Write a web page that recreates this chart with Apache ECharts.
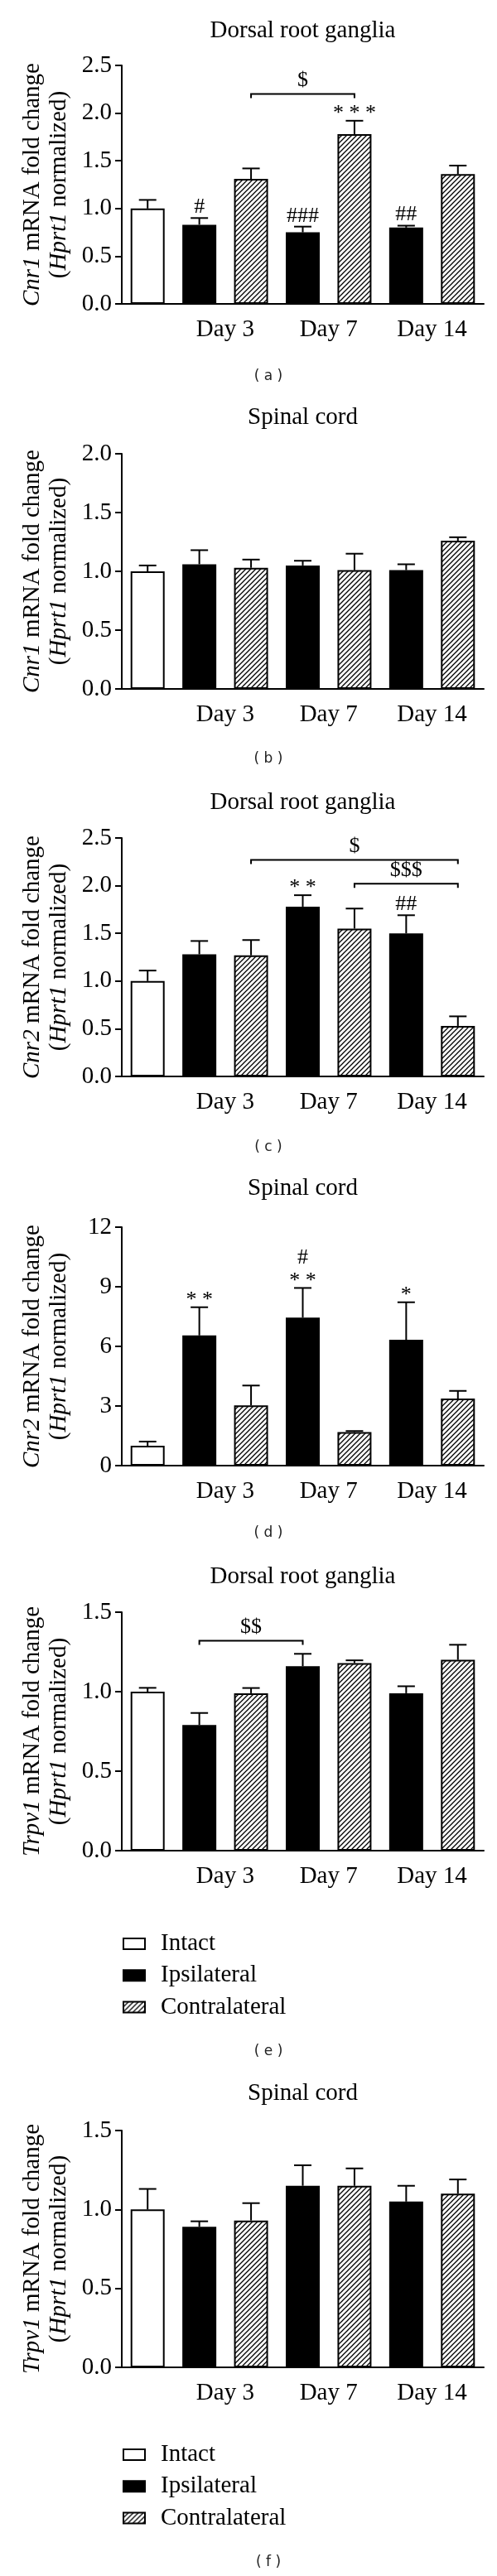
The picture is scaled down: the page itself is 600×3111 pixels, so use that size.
<!DOCTYPE html>
<html><head><meta charset="utf-8">
<script src="https://cdn.jsdelivr.net/npm/echarts@6/dist/echarts.min.js"></script>
<style>html,body{margin:0;padding:0;background:#fff}#c{width:600px;height:3111px}</style>
</head><body><div id="c"></div>
<script>
// ---------- categories / labels ----------
const categories = ['Intact','Ipsilateral Day 3','Contralateral Day 3','Ipsilateral Day 7','Contralateral Day 7','Ipsilateral Day 14','Contralateral Day 14'];
const groupNames = ['Intact','Ipsilateral','Contralateral'];
const groupOfCategory = [0,1,2,1,2,1,2];
const dayLabels = ['Day 3','Day 7','Day 14'];

const tissues = ['Dorsal root ganglia','Spinal cord','Dorsal root ganglia','Spinal cord','Dorsal root ganglia','Spinal cord'];
const genes = ['Cnr1','Cnr1','Cnr2','Cnr2','Trpv1','Trpv1'];
const panelLetters = ['a','b','c','d','e','f'];
const yMax = [2.5, 2.0, 2.5, 12, 1.5, 1.5];
const yStep = [0.5, 0.5, 0.5, 3, 0.5, 0.5];
const yDecimals = [1, 1, 1, 0, 1, 1];

// ---------- values (mean, SEM) ----------
const cnr1DrgMean = [1.00, 0.83, 1.31, 0.75, 1.78, 0.80, 1.36];
const cnr1DrgSem  = [0.09, 0.07, 0.11, 0.06, 0.14, 0.02, 0.09];
const cnr1ScMean  = [1.00, 1.06, 1.03, 1.05, 1.01, 1.01, 1.26];
const cnr1ScSem   = [0.05, 0.12, 0.07, 0.04, 0.14, 0.05, 0.03];
const cnr2DrgMean = [1.00, 1.28, 1.27, 1.78, 1.55, 1.50, 0.53];
const cnr2DrgSem  = [0.11, 0.14, 0.16, 0.12, 0.21, 0.19, 0.10];
const cnr2ScMean  = [1.00, 6.55, 3.03, 7.45, 1.69, 6.33, 3.37];
const cnr2ScSem   = [0.21, 1.42, 1.00, 1.49, 0.05, 1.89, 0.39];
const trpv1DrgMean = [1.00, 0.79, 0.99, 1.16, 1.18, 0.99, 1.20];
const trpv1DrgSem  = [0.024, 0.076, 0.033, 0.078, 0.017, 0.044, 0.095];
const trpv1ScMean  = [1.00, 0.89, 0.93, 1.15, 1.15, 1.05, 1.10];
const trpv1ScSem   = [0.13, 0.035, 0.11, 0.13, 0.11, 0.10, 0.09];

// ---------- significance marks [category, text] and brackets [from, to, level, text] ----------
const cnr1DrgMarks = [[1,'#'],[3,'###'],[4,'* * *'],[5,'##']];
const cnr1DrgBrackets = [[2,4,2.20,'$']];
const cnr1ScMarks = [];
const cnr1ScBrackets = [];
const cnr2DrgMarks = [[3,'* *'],[5,'##']];
const cnr2DrgBrackets = [[2,6,2.27,'$'],[4,6,2.02,'$$$']];
const cnr2ScMarks = [[1,'* *'],[3,'#\n* *'],[5,'*']];
const cnr2ScBrackets = [];
const trpv1DrgMarks = [];
const trpv1DrgBrackets = [[1,3,1.32,'$$']];
const trpv1ScMarks = [];
const trpv1ScBrackets = [];

const panels = [
  {mean: cnr1DrgMean, sem: cnr1DrgSem, marks: cnr1DrgMarks, brackets: cnr1DrgBrackets},
  {mean: cnr1ScMean, sem: cnr1ScSem, marks: cnr1ScMarks, brackets: cnr1ScBrackets},
  {mean: cnr2DrgMean, sem: cnr2DrgSem, marks: cnr2DrgMarks, brackets: cnr2DrgBrackets},
  {mean: cnr2ScMean, sem: cnr2ScSem, marks: cnr2ScMarks, brackets: cnr2ScBrackets},
  {mean: trpv1DrgMean, sem: trpv1DrgSem, marks: trpv1DrgMarks, brackets: trpv1DrgBrackets},
  {mean: trpv1ScMean, sem: trpv1ScSem, marks: trpv1ScMarks, brackets: trpv1ScBrackets}
];

// ---------- layout ----------
const FONT = '"Liberation Serif", "Times New Roman", serif';
const SANS = '"DejaVu Sans", Verdana, sans-serif';
const gridLeft = 147, gridWidth = 437;
const gridTop = [79, 548, 1012, 1482, 1947, 2573];
const gridHeight = [288, 284, 288, 288, 288, 286];
const titleY = [37, 504, 969, 1435, 1904, 2528];
const letterY = [455, 917, 1386, 1852, 2478, 3095];
const legendTop = [null, null, null, null, 2333, 2950];
const letterX = 324;
const FS = 29;

// hatch pattern
function makeHatch() {
  const s = 6;
  const c = document.createElement('canvas');
  c.width = s; c.height = s;
  const ctx = c.getContext('2d');
  ctx.fillStyle = '#fff'; ctx.fillRect(0, 0, s, s);
  ctx.strokeStyle = '#000'; ctx.lineWidth = 1.3;
  ctx.beginPath();
  ctx.moveTo(0, s); ctx.lineTo(s, 0);
  ctx.moveTo(-1, 1); ctx.lineTo(1, -1);
  ctx.moveTo(s - 1, s + 1); ctx.lineTo(s + 1, s - 1);
  ctx.stroke();
  return c;
}
const fills = ['#ffffff', '#000000', {image: makeHatch(), repeat: 'repeat'}];

const chart = echarts.init(document.getElementById('c'), null, {renderer: 'canvas'});

const grid = [], xAxis = [], yAxis = [], series = [], legend = [], graphic = [];

panels.forEach((p, g) => {
  grid.push({left: gridLeft, width: gridWidth, top: gridTop[g], height: gridHeight[g], containLabel: false});
  xAxis.push({
    type: 'category', gridIndex: g, data: categories, position: 'bottom',
    axisLine: {lineStyle: {color: '#000', width: 2}},
    axisTick: {alignWithLabel: true, interval: 0, length: 6, lineStyle: {color: '#000', width: 2}},
    axisLabel: {show: false, interval: 0}, splitLine: {show: false}
  });
  xAxis.push({
    type: 'value', gridIndex: g, min: 0, max: categories.length, interval: 1, position: 'bottom',
    axisLine: {show: false}, axisTick: {show: false}, splitLine: {show: false},
    axisLabel: {margin: 17, fontFamily: FONT, fontSize: FS, color: '#000',
      formatter: v => (v > 0 && v % 2 === 0 && dayLabels[v / 2 - 1]) ? dayLabels[v / 2 - 1] : ''}
  });
  yAxis.push({
    type: 'value', gridIndex: g, min: 0, max: yMax[g], interval: yStep[g],
    axisLine: {show: true, lineStyle: {color: '#000', width: 2}},
    axisTick: {show: true, length: 8, lineStyle: {color: '#000', width: 2}},
    splitLine: {show: false},
    axisLabel: {margin: 12, fontFamily: FONT, fontSize: FS, color: '#000',
      formatter: v => v.toFixed(yDecimals[g])},
    name: '{i|' + genes[g] + '} mRNA fold change\n({i|Hprt1} normalized)',
    nameLocation: 'middle', nameGap: 60,
    nameTextStyle: {fontFamily: FONT, fontSize: FS, color: '#000', lineHeight: 32,
      rich: {i: {fontFamily: FONT, fontSize: FS, fontStyle: 'italic', color: '#000', lineHeight: 32}}}
  });

  groupNames.forEach((name, s) => {
    series.push({
      type: 'bar', name: name, xAxisIndex: 2 * g, yAxisIndex: g,
      data: p.mean.map((v, i) => groupOfCategory[i] === s ? v : '-'),
      barWidth: 41, barGap: '-100%',
      itemStyle: {color: fills[s], borderColor: '#000', borderWidth: 2},
      silent: true, animation: false
    });
  });

  // error bars
  series.push({
    type: 'custom', xAxisIndex: 2 * g, yAxisIndex: g, silent: true, animation: false, z: 3, clip: false,
    data: p.mean.map((v, i) => [i, v, v + p.sem[i]]),
    renderItem: (params, api) => {
      const a = api.coord([api.value(0), api.value(1)]);
      const b = api.coord([api.value(0), api.value(2)]);
      const half = 10.5;
      return {type: 'group', children: [
        {type: 'line', shape: {x1: a[0], y1: a[1], x2: b[0], y2: b[1]}, style: {stroke: '#000', lineWidth: 2}},
        {type: 'line', shape: {x1: b[0] - half, y1: b[1], x2: b[0] + half, y2: b[1]}, style: {stroke: '#000', lineWidth: 2}}
      ]};
    }
  });

  // significance marks above error bars
  if (p.marks.length) {
    series.push({
      type: 'custom', xAxisIndex: 2 * g, yAxisIndex: g, silent: true, animation: false, z: 4, clip: false,
      data: p.marks.map(m => [m[0], p.mean[m[0]] + p.sem[m[0]]]),
      renderItem: (params, api) => {
        const pt = api.coord([api.value(0), api.value(1)]);
        const lines = p.marks[params.dataIndex][1].split('\n').reverse();
        return {type: 'group', children: lines.map((t, k) => {
          const glyphCenter = pt[1] - 13 - 23 * k;
          const y = glyphCenter + (t.indexOf('*') >= 0 ? 4.5 : 0);
          return {type: 'text', x: pt[0], y: y,
            style: {text: t, font: '26px ' + FONT, fill: '#000', align: 'center', verticalAlign: 'middle',
                    textAlign: 'center', textVerticalAlign: 'middle'}};
        })};
      }
    });
  }

  // brackets
  if (p.brackets.length) {
    series.push({
      type: 'custom', xAxisIndex: 2 * g, yAxisIndex: g, silent: true, animation: false, z: 4, clip: false,
      data: p.brackets.map(b => [b[0], b[2]]),
      renderItem: (params, api) => {
        const br = p.brackets[params.dataIndex];
        const a = api.coord([api.value(0), api.value(1)]);
        const b = api.coord([br[1], br[2]]);
        return {type: 'group', children: [
          {type: 'polyline', shape: {points: [[a[0], a[1] + 5], [a[0], a[1]], [b[0], b[1]], [b[0], b[1] + 5]]},
           style: {stroke: '#000', lineWidth: 2, fill: null}},
          {type: 'text', x: (a[0] + b[0]) / 2, y: a[1] - 16,
           style: {text: br[3], font: '26px ' + FONT, fill: '#000', align: 'center', verticalAlign: 'middle',
                   textAlign: 'center', textVerticalAlign: 'middle'}}
        ]};
      }
    });
  }

  graphic.push({type: 'text', x: gridLeft + gridWidth / 2, y: titleY[g],
    style: {text: tissues[g], font: FS + 'px ' + FONT, fill: '#000', align: 'center', verticalAlign: 'middle',
            textAlign: 'center', textVerticalAlign: 'middle'}});
  graphic.push({type: 'text', x: letterX, y: letterY[g],
    style: {text: '( ' + panelLetters[g] + ' )', font: '17px ' + SANS, fill: '#222', align: 'center', verticalAlign: 'middle',
            textAlign: 'center', textVerticalAlign: 'middle'}});

  if (legendTop[g] != null) {
    legend.push({
      data: groupNames, orient: 'vertical', left: 148, top: legendTop[g], padding: 0,
      icon: 'rect', itemWidth: 26, itemHeight: 13, itemGap: 9.3, selectedMode: false,
      itemStyle: {borderColor: '#000', borderWidth: 2},
      textStyle: {fontFamily: FONT, fontSize: FS, color: '#000', lineHeight: 29, padding: [0, 0, 0, 14]}
    });
  }
});

chart.setOption({
  animation: false,
  backgroundColor: '#fff',
  grid, xAxis, yAxis, series, legend, graphic
});
</script></body></html>
